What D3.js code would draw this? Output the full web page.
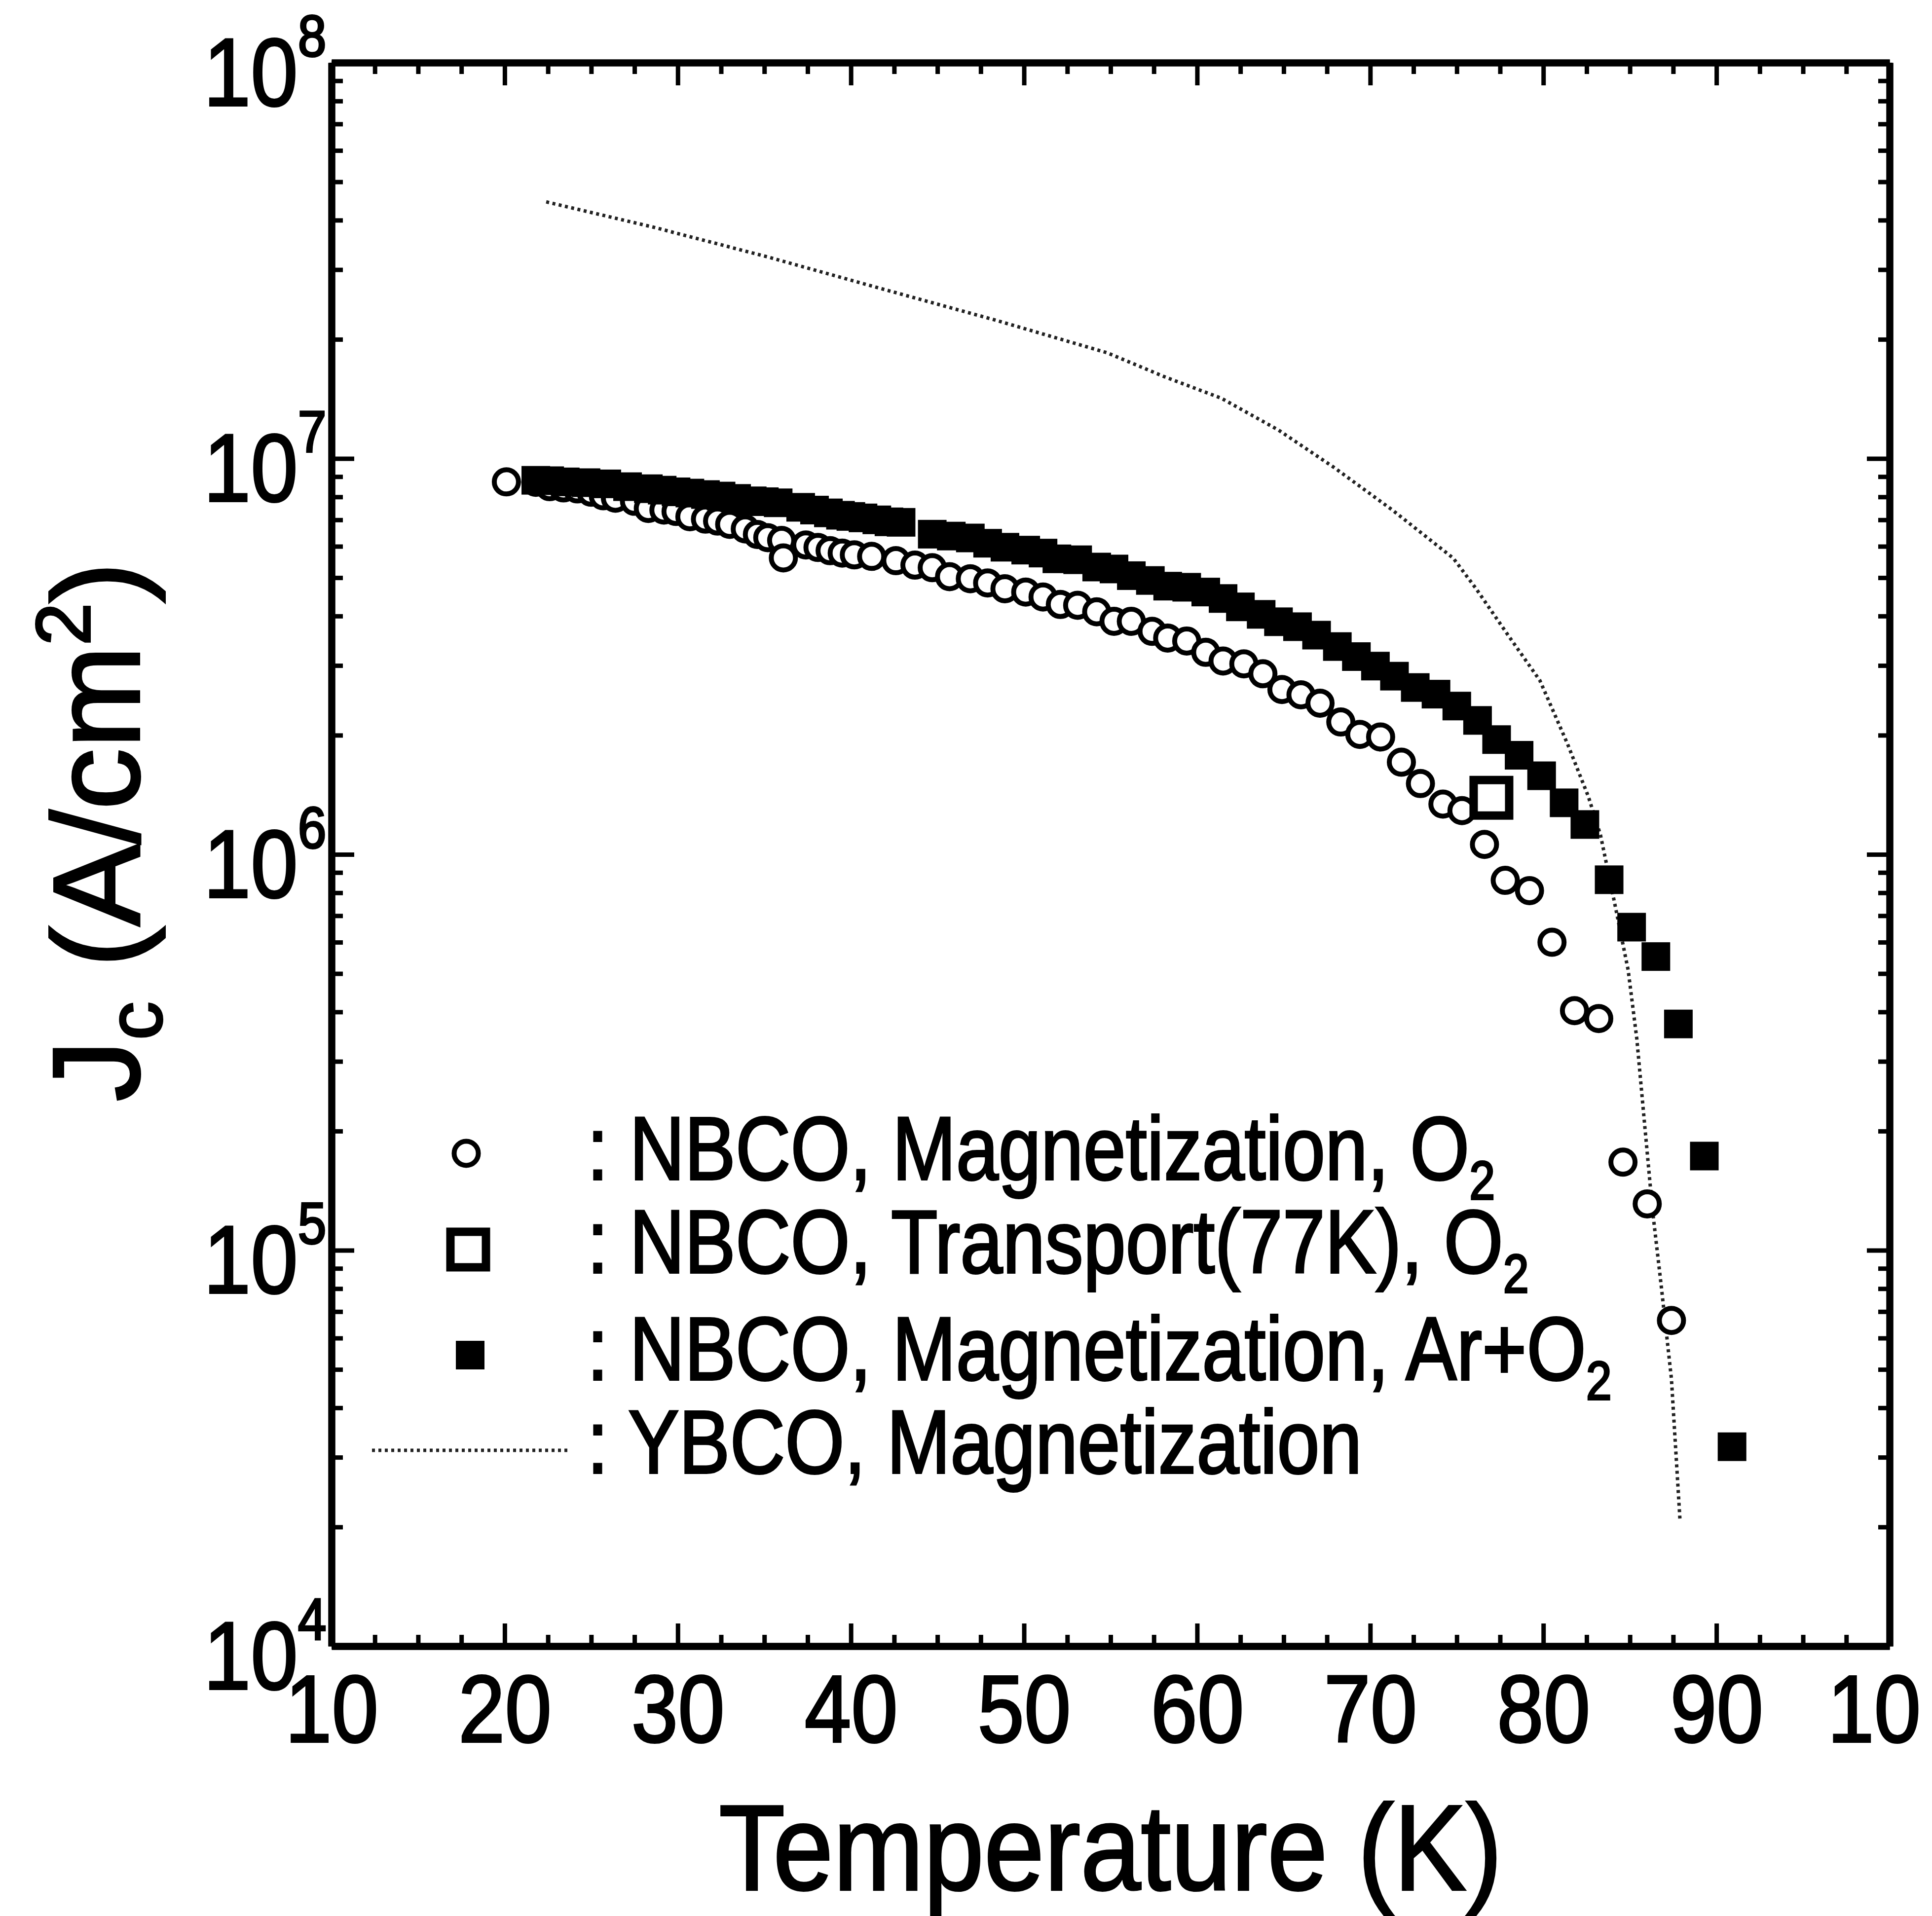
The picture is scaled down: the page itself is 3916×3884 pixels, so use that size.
<!DOCTYPE html>
<html>
<head>
<meta charset="utf-8">
<script src="https://cdn.jsdelivr.net/npm/d3@7"></script>
<style>
    body { margin: 0; background: #fff; }
    svg { display: block; }
    text { font-family: Arial, "Liberation Sans", sans-serif; fill: #000; stroke: #000; stroke-width: 4; }
</style>
</head>
<body>
<svg id="chart"></svg>
<script>
const width = 3916;
const height = 3884;
const margin = { top: 127, right: 86, bottom: 547, left: 672 };

// NBCO, magnetization, O2 (open circles)
const circT = [20.1, 21.8, 22.6, 23.4, 24.2, 25.0, 25.7, 26.4, 27.5, 28.3, 29.2, 29.9, 30.7, 31.6, 32.3, 33.0,
    33.9, 34.6, 35.2, 36.0, 36.1, 37.4, 38.1, 38.8, 39.5, 40.2, 41.2, 42.6, 43.7, 44.7, 45.7, 46.9, 47.9, 48.9,
    50.1, 51.1, 52.1, 53.1, 54.2, 55.2, 56.2, 57.4, 58.3, 59.4, 60.5, 61.5, 62.7, 63.8, 64.9, 66.0, 67.1, 68.3,
    69.4, 70.6, 71.8, 72.9, 74.2, 75.3, 76.6, 77.8, 79.2, 80.5, 81.8, 83.2, 84.6, 86.0, 87.4];
const circJ = [8.73e6, 8.71e6, 8.49e6, 8.43e6, 8.38e6, 8.22e6, 8.05e6, 7.94e6, 7.80e6, 7.48e6, 7.41e6, 7.35e6,
    7.13e6, 7.03e6, 6.95e6, 6.82e6, 6.64e6, 6.43e6, 6.31e6, 6.21e6, 5.61e6, 6.05e6, 5.96e6, 5.85e6, 5.77e6,
    5.71e6, 5.66e6, 5.52e6, 5.38e6, 5.30e6, 5.03e6, 4.97e6, 4.85e6, 4.69e6, 4.60e6, 4.47e6, 4.28e6, 4.26e6,
    4.10e6, 3.88e6, 3.88e6, 3.66e6, 3.52e6, 3.46e6, 3.24e6, 3.08e6, 3.03e6, 2.86e6, 2.61e6, 2.53e6, 2.41e6,
    2.16e6, 2.01e6, 1.98e6, 1.71e6, 1.51e6, 1.34e6, 1.29e6, 1.06e6, 8.6e5, 8.1e5, 6.0e5, 4.03e5, 3.85e5,
    1.67e5, 1.31e5, 6.65e4];

// NBCO, transport at 77 K, O2 (open square)
const transT = [77.0];
const transJ = [1.39e6];

// NBCO, magnetization, Ar+O2 (filled squares)
const sqT = [21.8, 22.6, 23.5, 24.7, 25.9, 27.1, 28.3, 29.1, 29.9, 30.7, 31.6, 32.5, 33.4, 34.3, 35.0, 35.8,
    37.1, 37.9, 38.7, 39.4, 40.0, 40.7, 41.5, 42.2, 42.9, 44.7, 45.8, 46.9, 47.9, 48.9, 50.1, 51.1, 51.9, 53.1,
    54.2, 55.2, 56.2, 57.3, 58.3, 59.4, 60.5, 61.5, 62.5, 63.7, 64.7, 65.8, 66.9, 68.1, 69.2, 70.3, 71.4, 72.6,
    73.8, 75.0, 76.2, 77.3, 78.6, 79.9, 81.2, 82.4, 83.8, 85.1, 86.5, 87.8, 89.3, 90.9];
const sqJ = [8.81e6, 8.79e6, 8.73e6, 8.69e6, 8.63e6, 8.49e6, 8.39e6, 8.32e6, 8.24e6, 8.18e6, 8.11e6, 8.04e6,
    7.93e6, 7.82e6, 7.78e6, 7.73e6, 7.53e6, 7.41e6, 7.29e6, 7.19e6, 7.14e6, 7.08e6, 7.00e6, 6.92e6, 6.90e6,
    6.44e6, 6.37e6, 6.30e6, 6.11e6, 5.97e6, 5.87e6, 5.77e6, 5.58e6, 5.55e6, 5.32e6, 5.26e6, 5.06e6, 4.92e6,
    4.76e6, 4.73e6, 4.60e6, 4.43e6, 4.22e6, 4.04e6, 3.87e6, 3.76e6, 3.58e6, 3.35e6, 3.16e6, 2.99e6, 2.82e6,
    2.64e6, 2.54e6, 2.37e6, 2.18e6, 1.95e6, 1.78e6, 1.58e6, 1.35e6, 1.19e6, 8.63e5, 6.55e5, 5.52e5, 3.73e5,
    1.73e5, 3.19e4];

// YBCO, magnetization (dotted line)
const ybcoT = [22.4, 28.6, 35.2, 41.7, 48.3, 54.8, 58.1, 61.4, 64.7, 67.9, 71.3, 74.8, 76.1, 78.0, 79.8, 81.4,
    82.6, 83.3, 84.1, 84.9, 85.4, 85.8, 86.3, 86.8, 87.4, 87.9];
const ybcoJ = [4.45e7, 3.84e7, 3.23e7, 2.69e7, 2.24e7, 1.85e7, 1.61e7, 1.42e7, 1.18e7, 9.5e6, 7.4e6, 5.6e6,
    4.7e6, 3.56e6, 2.75e6, 1.9e6, 1.4e6, 1.12e6, 7.6e5, 5.1e5, 3.42e5, 2.2e5, 1.27e5, 8.2e4, 4.73e4, 2.06e4];

// axes
const xMajor = [10, 20, 30, 40, 50, 60, 70, 80, 90, 100];
// the last label is cut to "10" at the figure's right edge
const xLabels = ['10', '20', '30', '40', '50', '60', '70', '80', '90', '10'];
const xMinor = d3.range(10, 100.01, 2.5).filter(v => v % 10 !== 0);
const yMajor = [1e4, 1e5, 1e6, 1e7, 1e8];
const yExp = ['4', '5', '6', '7', '8'];
const yMinor = [];
[1e4, 1e5, 1e6, 1e7].forEach(d => { for (let k = 2; k <= 9; k++) yMinor.push(k * d); });

const legendLabels = [
    { text: ': NBCO, Magnetization, O', sub: '2' },
    { text: ': NBCO, Transport(77K), O', sub: '2' },
    { text: ': NBCO, Magnetization, Ar+O', sub: '2' },
    { text: ': YBCO, Magnetization', sub: '' }
];

const svg = d3.select('#chart')
    .attr('width', width)
    .attr('height', height);

svg.append('rect').attr('width', width).attr('height', height).attr('fill', '#fff');

const x = d3.scaleLinear().domain([10, 100]).range([margin.left, width - margin.right]);
const y = d3.scaleLog().domain([1e4, 1e8]).range([height - margin.bottom, margin.top]);

const majorLen = 46, minorLen = 23;

const styleAxis = g => {
    g.select('.domain').attr('stroke', '#000').attr('stroke-width', 14);
    g.selectAll('.tick line').attr('stroke', '#000').attr('stroke-width', 9);
};

// bottom
svg.append('g').attr('transform', `translate(0,${y(1e4)})`)
    .call(d3.axisBottom(x).tickValues(xMinor).tickSize(-minorLen).tickSizeOuter(0).tickFormat(''))
    .call(styleAxis);
const xAxis = svg.append('g').attr('transform', `translate(0,${y(1e4)})`)
    .call(d3.axisBottom(x).tickValues(xMajor).tickSize(-majorLen).tickSizeOuter(0).tickPadding(57)
        .tickFormat((d, i) => xLabels[i]))
    .call(styleAxis);
xAxis.selectAll('.tick text')
    .attr('font-size', 193)
    .attr('font-family', 'Arial, "Liberation Sans", sans-serif')
    .attr('dx', d => d === 100 ? -36 : 0)
    .attr('transform', 'scale(0.88,1)');

// top
svg.append('g').attr('transform', `translate(0,${y(1e8)})`)
    .call(d3.axisTop(x).tickValues(xMinor).tickSize(-minorLen).tickSizeOuter(0).tickFormat(''))
    .call(styleAxis);
svg.append('g').attr('transform', `translate(0,${y(1e8)})`)
    .call(d3.axisTop(x).tickValues(xMajor).tickSize(-majorLen).tickSizeOuter(0).tickFormat(''))
    .call(styleAxis);

// left
svg.append('g').attr('transform', `translate(${x(10)},0)`)
    .call(d3.axisLeft(y).tickValues(yMinor).tickSize(-minorLen).tickSizeOuter(0).tickFormat(''))
    .call(styleAxis);
const yAxis = svg.append('g').attr('transform', `translate(${x(10)},0)`)
    .call(d3.axisLeft(y).tickValues(yMajor).tickSize(-majorLen).tickSizeOuter(0).tickFormat(''))
    .call(styleAxis);

yAxis.selectAll('.tick text').each(function (d, i) {
    const t = d3.select(this)
        .attr('x', -12).attr('y', 86).attr('dy', null)
        .attr('text-anchor', 'end')
        .attr('font-family', 'Arial, "Liberation Sans", sans-serif')
        .attr('transform', 'scale(0.88,1)');
    t.append('tspan').attr('font-size', 195).text('10');
    t.append('tspan').attr('font-size', 118).attr('dy', -100).text(yExp[i]);
});

// right
svg.append('g').attr('transform', `translate(${x(100)},0)`)
    .call(d3.axisRight(y).tickValues(yMinor).tickSize(-minorLen).tickSizeOuter(0).tickFormat(''))
    .call(styleAxis);
svg.append('g').attr('transform', `translate(${x(100)},0)`)
    .call(d3.axisRight(y).tickValues(yMajor).tickSize(-majorLen).tickSizeOuter(0).tickFormat(''))
    .call(styleAxis);

// axis titles
svg.append('text')
    .attr('text-anchor', 'middle')
    .attr('font-size', 247)
    .attr('transform', `translate(${x(55)},3831) scale(0.89,1)`)
    .text('Temperature (K)');

const yTitle = svg.append('text')
    .attr('text-anchor', 'middle')
    .attr('font-size', 250)
    .attr('transform', 'translate(282,1686) rotate(-90)');
yTitle.append('tspan').text('J');
yTitle.append('tspan').attr('font-size', 155).attr('dy', 45).text('c');
yTitle.append('tspan').attr('dy', -45).text(' (A/cm');
yTitle.append('tspan').attr('font-size', 155).attr('dy', -100).text('2');
yTitle.append('tspan').attr('dy', 100).text(')');

// YBCO dotted line
const ybco = ybcoT.map((t, i) => ({ t, j: ybcoJ[i] }));
svg.append('path')
    .datum(ybco)
    .attr('fill', 'none')
    .attr('stroke', '#222')
    .attr('stroke-width', 7)
    .attr('stroke-dasharray', '6,7')
    .attr('d', d3.line().x(d => x(d.t)).y(d => y(d.j)));

// open circles
const circ = circT.map((t, i) => ({ t, j: circJ[i] }));
svg.append('g').selectAll('circle')
    .data(circ)
    .enter().append('circle')
    .attr('cx', d => x(d.t))
    .attr('cy', d => y(d.j))
    .attr('r', 24.5)
    .attr('fill', '#fff')
    .attr('stroke', '#000')
    .attr('stroke-width', 10);

// transport square
const trans = transT.map((t, i) => ({ t, j: transJ[i] }));
svg.append('g').selectAll('rect')
    .data(trans)
    .enter().append('rect')
    .attr('x', d => x(d.t) - 36)
    .attr('y', d => y(d.j) - 36)
    .attr('width', 72)
    .attr('height', 72)
    .attr('fill', '#fff')
    .attr('stroke', '#000')
    .attr('stroke-width', 17);

// filled squares
const sq = sqT.map((t, i) => ({ t, j: sqJ[i] }));
svg.append('g').selectAll('rect')
    .data(sq)
    .enter().append('rect')
    .attr('x', d => x(d.t) - 29)
    .attr('y', d => y(d.j) - 29)
    .attr('width', 58)
    .attr('height', 58)
    .attr('fill', '#000');

// legend
const legend = svg.append('g');
const rowBase = [2391, 2580, 2797, 2986];
const rowMid = [2338, 2533, 2747, 2940];

legend.append('circle').attr('cx', 945).attr('cy', rowMid[0]).attr('r', 24.5)
    .attr('fill', '#fff').attr('stroke', '#000').attr('stroke-width', 10);
legend.append('rect').attr('x', 949 - 36).attr('y', rowMid[1] - 36).attr('width', 72).attr('height', 72)
    .attr('fill', '#fff').attr('stroke', '#000').attr('stroke-width', 17);
legend.append('rect').attr('x', 953 - 29).attr('y', rowMid[2] - 29).attr('width', 58).attr('height', 58)
    .attr('fill', '#000');
legend.append('line').attr('x1', 754).attr('x2', 1152).attr('y1', rowMid[3]).attr('y2', rowMid[3])
    .attr('stroke', '#222').attr('stroke-width', 7).attr('stroke-dasharray', '6,7');

legendLabels.forEach((l, i) => {
    const t = legend.append('text')
        .attr('font-size', 182)
        .attr('transform', `translate(1190,${rowBase[i]}) scale(0.85,1)`);
    t.append('tspan').text(l.text);
    if (l.sub) t.append('tspan').attr('font-size', 110).attr('dy', 40).text(l.sub);
});
</script>
</body>
</html>
